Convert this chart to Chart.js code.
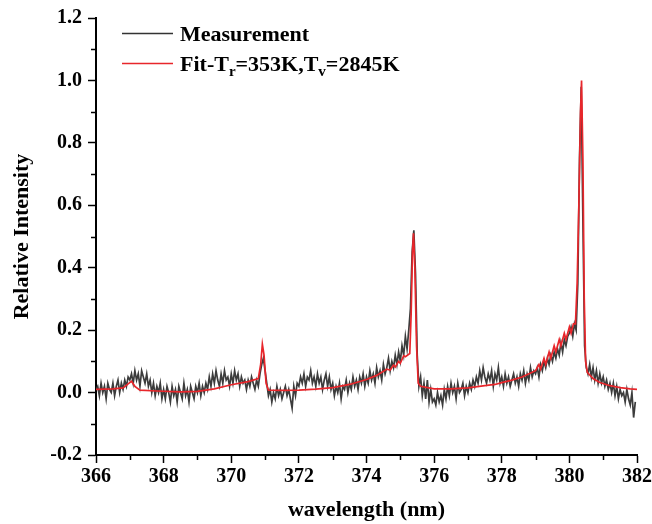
<!DOCTYPE html>
<html>
<head>
<meta charset="utf-8">
<script src="https://cdn.jsdelivr.net/npm/chart.js@4.4.1/dist/chart.umd.min.js"></script>
<style>
  html, body { margin: 0; padding: 0; background: #fff; }
  canvas { display: block; }
</style>
</head>
<body>
<canvas id="spectrum" width="652" height="524"></canvas>
<script>
// measured spectrum, sampled every 0.05 nm starting at 366.00 nm
const measStart = 366.0;
const measStep = 0.05;
const measIntensity = [
  0.01, 0.02, -0.01, 0.03, 0.00, 0.02, -0.02, 0.03, 0.01, 0.00, 0.03, -0.01, 0.02, 0.04, 0.00, 0.03, 0.01, 0.04, 0.02, 0.05,
  0.04, 0.06, 0.03, 0.07, 0.04, 0.06, 0.02, 0.07, 0.05, 0.03, 0.06, 0.02, 0.04, 0.00, 0.03, -0.01, 0.02, 0.00, 0.03, -0.02,
  0.01, -0.02, 0.02, 0.00, -0.03, 0.02, -0.01, 0.01, -0.03, 0.02, 0.00, -0.02, 0.03, -0.01, 0.01, -0.03, 0.02, 0.00, -0.02, 0.02,
  0.00, 0.03, -0.01, 0.02, 0.00, 0.03, 0.01, 0.05, 0.02, 0.06, 0.03, 0.07, 0.04, 0.02, 0.06, 0.03, 0.07, 0.04, 0.05, 0.02,
  0.06, 0.03, 0.07, 0.04, 0.06, 0.02, 0.05, 0.03, 0.04, 0.01, 0.04, 0.02, 0.05, 0.03, 0.01, 0.04, 0.02, 0.06, 0.09, 0.11,
  0.07, 0.03, -0.01, 0.01, -0.03, 0.00, -0.02, 0.02, -0.01, 0.01, -0.02, 0.00, 0.02, -0.01, 0.01, -0.02, -0.05, 0.02, -0.01, 0.03,
  0.02, 0.05, 0.03, 0.06, 0.02, 0.05, 0.04, 0.07, 0.03, 0.05, 0.02, 0.06, 0.03, 0.05, 0.01, 0.04, 0.06, 0.02, 0.05, 0.01,
  0.03, -0.01, 0.02, 0.00, 0.03, -0.02, 0.02, 0.01, 0.04, 0.00, 0.03, 0.01, 0.05, 0.02, 0.04, 0.01, 0.05, 0.03, 0.06, 0.02,
  0.05, 0.03, 0.07, 0.04, 0.06, 0.03, 0.08, 0.05, 0.07, 0.04, 0.09, 0.06, 0.08, 0.11, 0.07, 0.10, 0.08, 0.12, 0.09, 0.13,
  0.10, 0.15, 0.12, 0.18, 0.14, 0.20, 0.27, 0.45, 0.52, 0.38, 0.12, 0.02, 0.05, -0.01, 0.03, -0.02, 0.04, -0.03, 0.01, -0.03,
  -0.02, -0.04, 0.00, -0.03, -0.01, -0.04, 0.01, -0.02, 0.02, -0.01, 0.03, 0.00, 0.02, -0.02, 0.03, 0.00, 0.01, 0.03, -0.01, 0.02,
  0.00, 0.03, 0.01, 0.04, 0.02, 0.05, 0.03, 0.07, 0.04, 0.08, 0.05, 0.03, 0.06, 0.04, 0.07, 0.02, 0.06, 0.04, 0.08, 0.03,
  0.05, 0.02, 0.06, 0.03, 0.05, 0.02, 0.04, 0.06, 0.03, 0.05, 0.02, 0.06, 0.04, 0.07, 0.03, 0.06, 0.04, 0.08, 0.05, 0.07,
  0.06, 0.08, 0.05, 0.09, 0.07, 0.10, 0.08, 0.11, 0.09, 0.12, 0.10, 0.13, 0.11, 0.14, 0.12, 0.16, 0.13, 0.17, 0.15, 0.18,
  0.19, 0.21, 0.18, 0.22, 0.20, 0.35, 0.75, 0.98, 0.55, 0.15, 0.08, 0.06, 0.09, 0.05, 0.08, 0.04, 0.07, 0.03, 0.06, 0.03,
  0.05, 0.02, 0.04, 0.01, 0.03, 0.00, 0.03, -0.01, 0.02, -0.02, 0.01, -0.01, 0.00, -0.03, 0.01, -0.02, -0.04, 0.00, -0.08, -0.03
];

// simulated fit (Tr = 353 K, Tv = 2845 K)
const fitWavelength = [
  366.0, 366.5, 366.8, 366.95, 367.05, 367.15, 367.3, 367.8, 368.5, 369.0,
  369.5, 370.0, 370.5, 370.8, 370.87, 370.92, 370.97, 371.03, 371.1, 371.5,
  372.0, 372.5, 373.0, 373.5, 374.0, 374.3, 374.5, 374.6, 374.7, 374.8,
  374.85, 374.95, 375.0, 375.1, 375.15, 375.28, 375.32, 375.36, 375.39, 375.43,
  375.48, 375.53, 375.6, 376.0, 376.5, 377.0, 377.5, 377.8, 378.0, 378.3,
  378.6, 378.9, 379.0, 379.1, 379.15, 379.25, 379.3, 379.4, 379.45, 379.55,
  379.6, 379.7, 379.75, 379.85, 379.9, 380.0, 380.05, 380.12, 380.18, 380.23,
  380.28, 380.33, 380.36, 380.4, 380.44, 380.48, 380.53, 380.7, 380.9, 381.2,
  381.5, 381.8, 382.0
];
const fitIntensity = [
  0.010, 0.012, 0.015, 0.028, 0.036, 0.020, 0.008, 0.005, 0.002, 0.004,
  0.012, 0.025, 0.035, 0.045, 0.090, 0.155, 0.120, 0.030, 0.008, 0.007,
  0.008, 0.011, 0.016, 0.026, 0.042, 0.055, 0.068, 0.075, 0.072, 0.088,
  0.082, 0.100, 0.094, 0.118, 0.115, 0.125, 0.250, 0.450, 0.510, 0.400,
  0.150, 0.030, 0.020, 0.012, 0.012, 0.015, 0.022, 0.026, 0.032, 0.040,
  0.050, 0.065, 0.070, 0.090, 0.075, 0.110, 0.090, 0.130, 0.110, 0.150,
  0.130, 0.170, 0.150, 0.190, 0.170, 0.210, 0.190, 0.220, 0.220, 0.350,
  0.600, 0.900, 1.000, 0.750, 0.300, 0.100, 0.065, 0.045, 0.032, 0.022,
  0.016, 0.012, 0.010
];

const xMajorTicks = [366, 368, 370, 372, 374, 376, 378, 380, 382];
const xMinorTicks = [367, 369, 371, 373, 375, 377, 379, 381];
const yMinorTicks = [-0.1, 0.1, 0.3, 0.5, 0.7, 0.9, 1.1];

const serif = "'Liberation Serif', 'Times New Roman', serif";

const measPoints = measIntensity.map((v, i) => ({ x: measStart + i * measStep, y: v }));
const fitPoints = fitWavelength.map((w, i) => ({ x: w, y: fitIntensity[i] }));

// minor ticks and the legend (with subscripts) drawn by hand
const extras = {
  id: "extras",
  afterDraw(chart) {
    const { ctx, scales: { x, y } } = chart;
    ctx.save();
    ctx.strokeStyle = "#000";
    ctx.lineWidth = 1.5;
    ctx.beginPath();
    xMinorTicks.forEach(v => {
      const px = Math.round(x.getPixelForValue(v)) + 0.5;
      ctx.moveTo(px, x.top);
      ctx.lineTo(px, x.top + 5);
    });
    yMinorTicks.forEach(v => {
      const py = Math.round(y.getPixelForValue(v)) + 0.5;
      ctx.moveTo(y.right, py);
      ctx.lineTo(y.right - 5, py);
    });
    ctx.stroke();

    // legend
    ctx.lineWidth = 1.5;
    ctx.strokeStyle = "#333";
    ctx.beginPath(); ctx.moveTo(122, 33.5); ctx.lineTo(173, 33.5); ctx.stroke();
    ctx.strokeStyle = "#e8262b";
    ctx.beginPath(); ctx.moveTo(122, 63.5); ctx.lineTo(173, 63.5); ctx.stroke();

    ctx.fillStyle = "#000";
    ctx.textBaseline = "alphabetic";
    ctx.textAlign = "left";
    const big = "bold 22px " + serif;
    const small = "bold 15px " + serif;
    ctx.font = big;
    ctx.fillText("Measurement", 180, 41);

    const parts = [["Fit-T", big, 0], ["r", small, 5], ["=353K,T", big, 0], ["v", small, 5], ["=2845K", big, 0]];
    let cx = 180;
    parts.forEach(([t, f, dy]) => {
      ctx.font = f;
      ctx.fillText(t, cx, 71 + dy);
      cx += ctx.measureText(t).width;
    });
    ctx.restore();
  }
};

new Chart(document.getElementById("spectrum"), {
  type: "line",
  data: {
    datasets: [
      {
        label: "Measurement",
        data: measPoints,
        borderColor: "#3c3c3c",
        borderWidth: 1.7,
        pointRadius: 0,
        tension: 0,
        order: 2
      },
      {
        label: "Fit",
        data: fitPoints,
        borderColor: "#e8262b",
        borderWidth: 1.7,
        pointRadius: 0,
        tension: 0,
        order: 1
      }
    ]
  },
  options: {
    responsive: false,
    animation: false,
    layout: { padding: { top: 18, right: 15, left: 0, bottom: 0 } },
    plugins: {
      legend: { display: false },
      tooltip: { enabled: false }
    },
    scales: {
      x: {
        type: "linear",
        min: 366,
        max: 382,
        afterBuildTicks: scale => { scale.ticks = xMajorTicks.map(v => ({ value: v })); },
        afterFit: scale => {
          scale.height = 69;
          scale.paddingLeft = 0;
          scale.paddingRight = 0;
        },
        grid: { drawOnChartArea: false, drawTicks: true, tickLength: 8, tickWidth: 1.5, tickColor: "#000" },
        border: { display: true, color: "#000", width: 2 },
        ticks: {
          color: "#000",
          padding: 2,
          maxRotation: 0,
          font: { family: serif, size: 20, weight: "bold" }
        },
        title: {
          display: true,
          text: "wavelength (nm)",
          color: "#000",
          padding: { top: 0, bottom: 0 },
          font: { family: serif, size: 22, weight: "bold" }
        }
      },
      y: {
        min: -0.2,
        max: 1.2,
        afterFit: scale => { scale.width = 96; },
        grid: { drawOnChartArea: false, drawTicks: true, tickLength: 8, tickWidth: 1.5, tickColor: "#000" },
        border: { display: true, color: "#000", width: 2 },
        ticks: {
          stepSize: 0.2,
          color: "#000",
          padding: 6,
          font: { family: serif, size: 20, weight: "bold" },
          callback: v => (Math.abs(v) < 1e-9 ? 0 : v).toFixed(1)
        },
        title: {
          display: true,
          text: "Relative Intensity",
          color: "#000",
          padding: { top: 9, bottom: 0 },
          font: { family: serif, size: 22, weight: "bold" }
        }
      }
    }
  },
  plugins: [extras]
});
</script>
</body>
</html>
